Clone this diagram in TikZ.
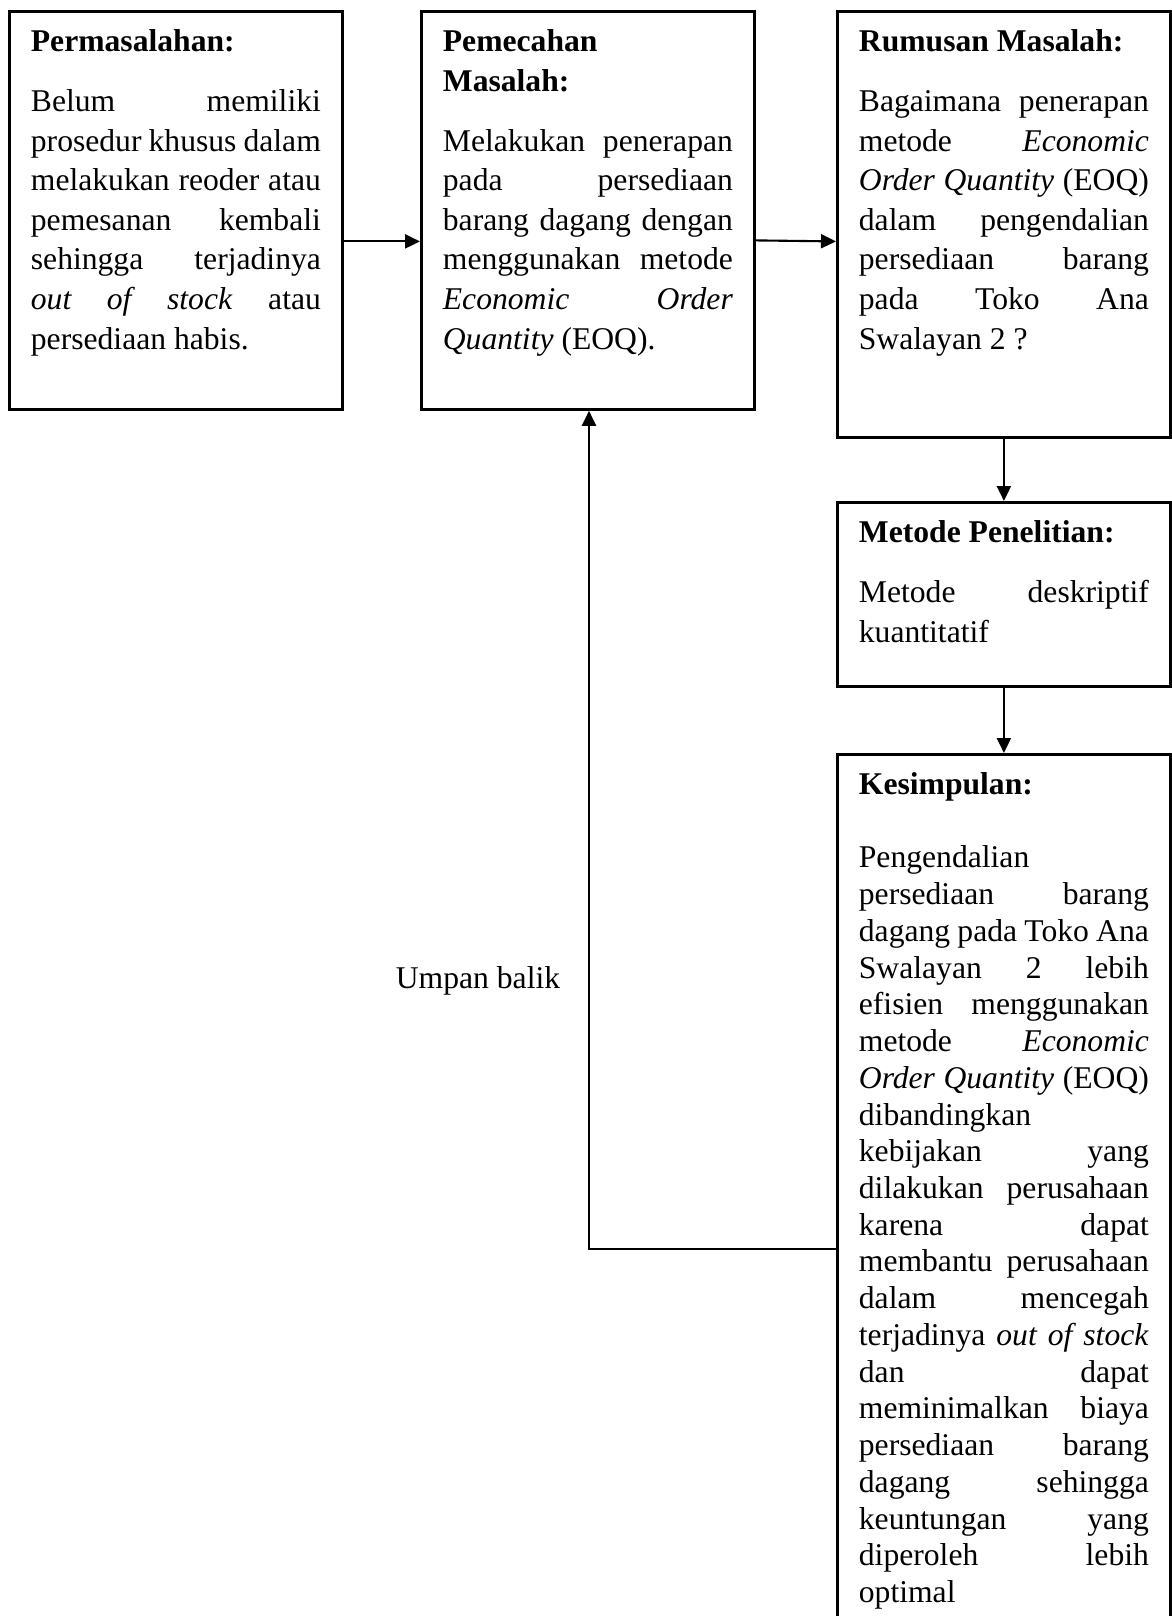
\documentclass[tikz,border=0pt]{standalone}
\usepackage{fontspec}
\setmainfont{Liberation Serif}
\usetikzlibrary{arrows.meta,positioning}
\tikzstyle{arrow} = [semithick,-{Triangle[length=0.15cm,width=0.14cm]}]
\tikzstyle{kotak} = [draw,thick,anchor=north west,text width=2.9cm,inner xsep=0.215cm,inner ysep=0.15cm,text height=0.25cm,align=justify,font=\fontsize{9}{11.27}\selectfont]
\tolerance=10000
\hbadness=10000
\hyphenpenalty=10000

\begin{document}
\begin{tikzpicture}
\useasboundingbox (0,0) rectangle (11.71,-16.16);

\node[kotak,text depth=3.43cm] (masalah) at (0.08,-0.10) {\textbf{Permasalahan:}\par\vspace{0.204cm}
Belum memiliki\linebreak prosedur khusus dalam\linebreak melakukan reoder atau\linebreak pemesanan kembali\linebreak sehingga terjadinya\linebreak \textit{out of stock} atau\linebreak persediaan habis.};

\node[kotak,text depth=3.43cm] (pemecahan) at (4.20,-0.10) {\textbf{Pemecahan\newline Masalah:}\par\vspace{0.204cm}
Melakukan penerapan\linebreak pada persediaan\linebreak barang dagang dengan\linebreak menggunakan metode\linebreak \textit{Economic Order}\linebreak \textit{Quantity} (EOQ).};

\node[kotak,text depth=3.71cm] (rumusan) at (8.36,-0.10) {\textbf{Rumusan Masalah:}\par\vspace{0.204cm}
Bagaimana penerapan\linebreak metode \textit{Economic}\linebreak \textit{Order Quantity} (EOQ)\linebreak dalam pengendalian\linebreak persediaan barang\linebreak pada Toko Ana\linebreak Swalayan 2 ?};

\node[kotak,text depth=1.29cm] (metode) at (8.36,-5.01) {\textbf{Metode Penelitian:}\par\vspace{0.204cm}
Metode deskriptif\linebreak kuantitatif};

\node[kotak,text depth=8.22cm,font=\fontsize{9}{10.45}\selectfont] (kesimpulan) at (8.36,-7.53) {\textbf{Kesimpulan:}\par\vspace{0.368cm}
Pengendalian\newline persediaan barang\linebreak dagang pada Toko Ana\linebreak Swalayan 2 lebih\linebreak efisien menggunakan\linebreak metode \textit{Economic}\linebreak \textit{Order Quantity} (EOQ)\linebreak dibandingkan\newline kebijakan yang\linebreak dilakukan perusahaan\linebreak karena dapat\linebreak membantu perusahaan\linebreak dalam mencegah\linebreak terjadinya \textit{out of stock}\linebreak dan dapat\linebreak meminimalkan biaya\linebreak persediaan barang\linebreak dagang sehingga\linebreak keuntungan yang\linebreak diperoleh lebih\linebreak optimal};

\node[anchor=base,font=\fontsize{9}{11.27}\selectfont] (umpan) at (4.78,-9.88) {Umpan balik};
\coordinate (belok) at (5.89,-12.49);

\draw [arrow] ([yshift=-0.31cm]masalah.east) -- ([yshift=-0.31cm]pemecahan.west);
\draw [arrow] ([yshift=-0.30cm]pemecahan.east) -- ([yshift=-0.17cm]rumusan.west);
\draw [arrow] (rumusan.south) -- (metode.north);
\draw [arrow] (metode.south) -- (kesimpulan.north);
\draw [arrow] (kesimpulan.west |- belok) -- (belok) -- (pemecahan.south -| belok);
\end{tikzpicture}
\end{document}
